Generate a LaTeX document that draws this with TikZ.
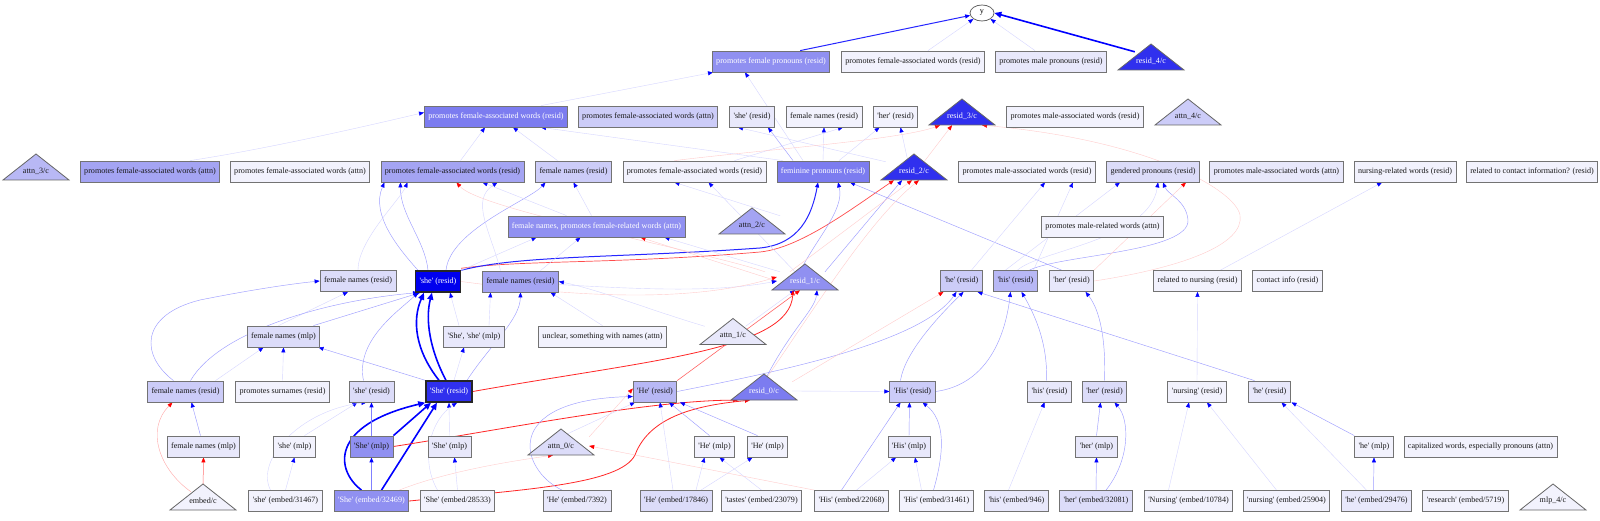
\documentclass[tikz,border=0pt]{standalone}
\usepackage{fontspec}
\setmainfont{Liberation Serif}
\usetikzlibrary{arrows.meta,shapes.geometric}
\pgfdeclarelayer{bg}
\pgfsetlayers{bg,main}
\newcommand{\nfs}{\fontsize{8.1}{9}\selectfont}
\newcommand{\q}{\textquotesingle}
\newcommand{\tri}[6]{%
  \filldraw[fill=#4, draw=black!60, line width=0.8pt] (#2-33,#3+13) -- (#2,#3-13) -- (#2+33,#3+13) -- cycle;
  \node[font=\nfs, text=#5, minimum width=56pt, minimum height=18pt, inner sep=0pt] (#1) at (#2,#3+4) {#6};}
\definecolor{f0}{HTML}{F2F2FD}
\definecolor{f1}{HTML}{E8E8FB}
\definecolor{f2}{HTML}{DCDCF9}
\definecolor{f3}{HTML}{CCCCF8}
\definecolor{f4}{HTML}{B8B8F5}
\definecolor{f5}{HTML}{A4A4F3}
\definecolor{f6}{HTML}{9090F1}
\definecolor{f7}{HTML}{7C7CF0}
\definecolor{f8}{HTML}{3030EE}
\definecolor{f9}{HTML}{0000EE}
\tikzset{
  bx/.style={rectangle, draw=black!55, line width=0.8pt, minimum height=21pt, inner xsep=4pt, inner ysep=0pt, font=\nfs, text=black!90},
  wt/.style={text=white},
  tk/.style={draw=black!85, line width=1.4pt},
  ab/.style={-{Triangle[length=5pt,width=4pt,color=blue]}},
  arx/.style={-{Triangle[length=5pt,width=4pt,color=red]}},
  ew/.style={ab, draw=blue!16, line width=0.4pt},
  eb/.style={ab, draw=blue!38, line width=0.45pt},
  eB/.style={ab, draw=blue!85, line width=1pt},
  eBB/.style={-{Triangle[length=7pt,width=6pt,color=blue]}, draw=blue, line width=1.6pt},
  er/.style={arx, draw=red!20, line width=0.4pt},
  eR/.style={arx, draw=red!85, line width=0.8pt},
}
\begin{document}
\begin{tikzpicture}[x=1pt,y=-1pt]
\begin{pgfonlayer}{bg}
\fill[white] (0,0) rectangle (1600,521);
\end{pgfonlayer}
\useasboundingbox (0,0) rectangle (1600,521);
% ---------- nodes
\node[ellipse, draw=black!60, line width=0.8pt, minimum width=24pt, minimum height=16pt, inner sep=0pt, font=\nfs] (y) at (982,13) {y};
% row 1
\node[bx, fill=f6, wt] (pfp) at (771,61.5) {promotes female pronouns (resid)};
\node[bx, fill=f0] (pfawT) at (913,61.5) {promotes female-associated words (resid)};
\node[bx, fill=f1] (pmp) at (1051,61.5) {promotes male pronouns (resid)};
\tri{r4c}{1151}{57}{f8}{white}{resid\_4/c}
% row 2
\node[bx, fill=f7, wt] (pfaw2) at (496,116.5) {promotes female-associated words (resid)};
\node[bx, fill=f3] (pfaA2) at (648,116.5) {promotes female-associated words (attn)};
\node[bx, fill=f1] (sheR2) at (752,116.5) {\q{}she\q{} (resid)};
\node[bx, fill=f0] (fnR2) at (824,116.5) {female names (resid)};
\node[bx, fill=f0] (herR2) at (895.5,116.5) {\q{}her\q{} (resid)};
\tri{r3c}{962}{112}{f8}{white}{resid\_3/c}
\node[bx, fill=f0] (pmaw2) at (1075,116.5) {promotes male-associated words (resid)};
\tri{a4c}{1188}{112}{f3}{black!90}{attn\_4/c}
% row 3
\tri{a3c}{36}{167}{f4}{black!90}{attn\_3/c}
\node[bx, fill=f5] (pfaA3a) at (150,171.5) {promotes female-associated words (attn)};
\node[bx, fill=f0] (pfaA3b) at (300,171.5) {promotes female-associated words (attn)};
\node[bx, fill=f5] (pfaw3) at (452.5,171.5) {promotes female-associated words (resid)};
\node[bx, fill=f3] (fnR3) at (573.5,171.5) {female names (resid)};
\node[bx, fill=f0] (pfaw3c) at (694.5,171.5) {promotes female-associated words (resid)};
\node[bx, fill=f7, wt] (femP) at (823,171.5) {feminine pronouns (resid)};
\tri{r2c}{914}{167}{f8}{white}{resid\_2/c}
\node[bx, fill=f0] (pmaw3) at (1027,171.5) {promotes male-associated words (resid)};
\node[bx, fill=f2] (gend) at (1153,171.5) {gendered pronouns (resid)};
\node[bx, fill=f1] (pmaA) at (1276.5,171.5) {promotes male-associated words (attn)};
\node[bx, fill=f0] (nurs) at (1405,171.5) {nursing-related words (resid)};
\node[bx, fill=f0] (contQ) at (1532,171.5) {related to contact information? (resid)};
% row 3.5
\node[bx, fill=f6, wt] (fnpa) at (596.5,226.5) {female names, promotes female-related words (attn)};
\tri{a2c}{752}{221}{f5}{black!90}{attn\_2/c}
\node[bx, fill=f0] (pmrA) at (1102.5,226.5) {promotes male-related words (attn)};
% row 4
\node[bx, fill=f2] (fnR4a) at (358,281) {female names (resid)};
\node[bx, fill=f9, wt, tk] (sheR4) at (438,281.5) {\q{}she\q{} (resid)};
\node[bx, fill=f5] (fnR4b) at (520.5,281.5) {female names (resid)};
\tri{r1c}{805}{277}{f6}{white}{resid\_1/c}
\node[bx, fill=f3] (heR4) at (961.5,281) {\q{}he\q{} (resid)};
\node[bx, fill=f4] (hisR4) at (1015.5,281) {\q{}his\q{} (resid)};
\node[bx, fill=f1] (herR4) at (1071.5,281) {\q{}her\q{} (resid)};
\node[bx, fill=f0] (relNurs) at (1197.5,281) {related to nursing (resid)};
\node[bx, fill=f0] (contact) at (1287.5,281) {contact info (resid)};
% row 5
\node[bx, fill=f2] (fnM5) at (283.5,336.5) {female names (mlp)};
\node[bx, fill=f1] (SsM) at (474,336.5) {\q{}She\q{}, \q{}she\q{} (mlp)};
\node[bx, fill=f0] (unclear) at (602.5,336.5) {unclear, something with names (attn)};
\tri{a1c}{733}{331.5}{f1}{black!90}{attn\_1/c}
% row 6
\node[bx, fill=f3] (fnR6) at (185.5,391.5) {female names (resid)};
\node[bx, fill=f0] (psur) at (282.5,391.5) {promotes surnames (resid)};
\node[bx, fill=f2] (sheR6) at (371.5,391.5) {\q{}she\q{} (resid)};
\node[bx, fill=f8, wt, tk] (SheR6) at (449,391.5) {\q{}She\q{} (resid)};
\node[bx, fill=f4] (HeR6) at (655,391.5) {\q{}He\q{} (resid)};
\tri{r0c}{764}{387}{f7}{white}{resid\_0/c}
\node[bx, fill=f3] (HisR6) at (912.5,391.5) {\q{}His\q{} (resid)};
\node[bx, fill=f1] (hisR6) at (1049.5,391.5) {\q{}his\q{} (resid)};
\node[bx, fill=f2] (herR6) at (1104.5,391.5) {\q{}her\q{} (resid)};
\node[bx, fill=f0] (nursR6) at (1197,391.5) {\q{}nursing\q{} (resid)};
\node[bx, fill=f1] (heR6) at (1269.5,391.5) {\q{}he\q{} (resid)};
% row 7
\node[bx, fill=f1] (fnM7) at (203.5,446.5) {female names (mlp)};
\node[bx, fill=f0] (sheM) at (294.5,446.5) {\q{}she\q{} (mlp)};
\node[bx, fill=f6] (SheM1) at (371.5,446.5) {\q{}She\q{} (mlp)};
\node[bx, fill=f1] (SheM2) at (449.5,446.5) {\q{}She\q{} (mlp)};
\tri{a0c}{561}{442}{f2}{black!90}{attn\_0/c}
\node[bx, fill=f0] (HeM1) at (714.5,446.5) {\q{}He\q{} (mlp)};
\node[bx, fill=f0] (HeM2) at (767.5,446.5) {\q{}He\q{} (mlp)};
\node[bx, fill=f1] (HisM) at (909,446.5) {\q{}His\q{} (mlp)};
\node[bx, fill=f1] (herM) at (1096.5,446.5) {\q{}her\q{} (mlp)};
\node[bx, fill=f0] (heM) at (1374,446.5) {\q{}he\q{} (mlp)};
\node[bx, fill=f0] (cap) at (1480.5,446.5) {capitalized words, especially pronouns (attn)};
% row 8
\tri{embc}{203}{497}{f0}{black!90}{embed/c}
\node[bx, fill=f0] (esh1) at (285.5,501) {\q{}she\q{} (embed/31467)};
\node[bx, fill=f6, wt] (eShe) at (371.5,501) {\q{}She\q{} (embed/32469)};
\node[bx, fill=f0] (eShe2) at (457.5,501) {\q{}She\q{} (embed/28533)};
\node[bx, fill=f1] (eHe1) at (577,501) {\q{}He\q{} (embed/7392)};
\node[bx, fill=f2] (eHe2) at (676,501) {\q{}He\q{} (embed/17846)};
\node[bx, fill=f0] (etas) at (761.5,501) {\q{}tastes\q{} (embed/23079)};
\node[bx, fill=f0] (eHis1) at (851.5,501) {\q{}His\q{} (embed/22068)};
\node[bx, fill=f0] (eHis2) at (936.5,501) {\q{}His\q{} (embed/31461)};
\node[bx, fill=f1] (ehis) at (1016.5,501) {\q{}his\q{} (embed/946)};
\node[bx, fill=f2] (eher) at (1096,501) {\q{}her\q{} (embed/32081)};
\node[bx, fill=f0] (eNur) at (1188.5,501) {\q{}Nursing\q{} (embed/10784)};
\node[bx, fill=f0] (enur) at (1286.5,501) {\q{}nursing\q{} (embed/25904)};
\node[bx, fill=f1] (ehe) at (1376.5,501) {\q{}he\q{} (embed/29476)};
\node[bx, fill=f0] (eres) at (1465.5,501) {\q{}research\q{} (embed/5719)};
\tri{mlpc}{1553}{497}{f0}{black!90}{mlp\_4/c}
% ---------- edges
\begin{pgfonlayer}{bg}
% top
\draw[eB] ([xshift=-30]pfp.north east) -- (y);
\draw[eBB] ([xshift=12]r4c.north west) -- (y.east);
\draw[ew] ([xshift=15]pfawT.north) -- (y);
\draw[ew] ([xshift=-16]pmp.north) -- (y);
\draw[ew] ([xshift=45]pfaw2.north) -- ([xshift=-58]pfp.south);
\draw[ew] ([xshift=-20]femP.north) -- ([xshift=-26]pfp.south);
% into row 2
\draw[ew] ([xshift=40]pfaA3a.north) .. controls (260,150) and (350,130) .. ([yshift=4]pfaw2.west);
\draw[ew] ([xshift=8]pfaw3.north) -- ([xshift=-11]pfaw2.south);
\draw[ew] ([xshift=-16]fnR3.north) -- ([xshift=17]pfaw2.south);
\draw[ew] ([xshift=-40]femP.north) -- ([xshift=45]pfaw2.south);
\draw[eb] ([xshift=-30]femP.north) -- ([xshift=16]sheR2.south);
\draw[ew] (r2c.north west) -- ([xshift=-14]sheR2.south);
\draw[ew] (femP.north) -- (fnR2.south);
\draw[ew] ([xshift=16]femP.north) -- ([xshift=-16]herR2.south);
\draw[ew] ([xshift=-6]r2c.north) -- ([xshift=5]herR2.south);
\draw[ew] ([xshift=40]pfaw3c.north) -- ([xshift=19]fnR2.south);
\draw[er] (herR4.east) .. controls (1180,268) and (1245,245) .. (1240,215) .. controls (1235,190) and (1150,140) .. ([xshift=20]r3c.south);
\draw[er] ([xshift=-20]pfaw3c.north) .. controls (760,150) and (900,140) .. ([xshift=-22]r3c.south);
\draw[er] ([xshift=10]r2c.north) -- ([xshift=-10]r3c.south);
% into row 3
\draw[eR, draw=red!70, line width=0.7pt] ([yshift=2]sheR4.north east) .. controls (520,260) and (620,264) .. (760,252) .. controls (800,248) and (850,210) .. ([xshift=-20]r2c.south);
\draw[eB] (sheR4.north east) .. controls (520,255) and (620,258) .. (760,248) .. controls (800,244) and (812,215) .. ([xshift=-5]femP.south);
\draw[eb] ([xshift=-10]sheR4.north) .. controls (425,240) and (400,215) .. ([xshift=-52]pfaw3.south);
\draw[eb] ([xshift=-20]sheR4.north) .. controls (400,250) and (370,215) .. ([xshift=-68]pfaw3.south);
\draw[eb] ([xshift=8]sheR4.north) .. controls (450,230) and (530,200) .. ([xshift=-28]fnR3.south);
\draw[ew] (fnR4a.north) .. controls (358,240) and (400,200) .. ([xshift=-45]pfaw3.south);
\draw[ew] ([xshift=-30]fnpa.north) -- ([xshift=30]pfaw3.south);
\draw[ew] ([xshift=-20]fnR4b.north) .. controls (490,230) and (470,200) .. ([xshift=45]pfaw3.south);
\draw[ew] ([xshift=-5]fnpa.north) -- (fnR3.south);
\draw[er] ([xshift=-40]r1c.north) .. controls (700,250) and (480,210) .. ([xshift=4]pfaw3.south);
\draw[eb] ([xshift=-5]r1c.north) .. controls (815,240) and (845,210) .. ([xshift=15]femP.south);
\draw[eb] ([xshift=20]r1c.north) -- ([xshift=-12]r2c.south);
\draw[eb] ([xshift=-10]herR4.north) -- ([xshift=27]femP.south);
\draw[eb] ([xshift=14]hisR4.north) .. controls (1060,255) and (1190,252) .. (1188,220) .. controls (1186,200) and (1168,195) .. ([xshift=10]gend.south);
\draw[ew] ([xshift=2]hisR4.north) .. controls (1040,250) and (1150,240) .. ([xshift=5]gend.south);
\draw[ew] ([xshift=-10]hisR4.north) -- ([xshift=-33]gend.south);
\draw[er] (herR4.north east) -- ([xshift=33]gend.south);
\draw[ew] ([xshift=23]relNurs.north) -- ([xshift=-23]nurs.south);
\draw[ew] (a2c.north east) -- ([xshift=-20]pfaw3c.south);
\draw[ew] ([xshift=-10]r1c.north) -- ([xshift=14]pfaw3c.south);
\draw[ew] ([xshift=10]heR4.north) -- ([xshift=18]pmaw3.south);
\draw[ew] ([xshift=18]hisR4.north) -- ([xshift=46]pmaw3.south);
\draw[er] (r0c.north) .. controls (820,300) and (870,220) .. ([xshift=5]r2c.south);
\draw[er] ([xshift=-15]r1c.north) -- ([xshift=-2]r2c.south);
% into row 3.5
\draw[ew] ([xshift=20]fnR4b.north) -- ([xshift=-16]fnpa.south);
\draw[ew] (sheR4.north east) -- ([xshift=-60]fnpa.south);
\draw[er] (r1c.west) -- ([xshift=44]fnpa.south);
\draw[ew] ([xshift=-25]r1c.north) -- ([xshift=68]fnpa.south);
% into row 4
\draw[ew] ([xshift=-15]SsM.north) -- ([xshift=12]sheR4.south);
\draw[ew] ([xshift=15]SsM.north) -- ([xshift=-30]fnR4b.south);
\draw[eb] ([xshift=30]fnM5.north) -- ([xshift=-18]sheR4.south);
\draw[ew] ([xshift=-5]fnM5.north) -- ([xshift=-10]fnR4a.south);
\draw[ew] (unclear.north) -- ([xshift=30]fnR4b.south);
\draw[ew] (a1c) -- ([xshift=-10]r1c.south);
\draw[ew] (a1c.north west) .. controls (650,310) and (600,290) .. (fnR4b.east);
\draw[ew] ([yshift=-3]fnR4b.east) .. controls (650,290) and (720,292) .. (r1c.west);
\draw[er] (sheR4.east) .. controls (600,300) and (700,300) .. ([yshift=4]r1c.west);
% row 6 -> 4/5
\draw[eBB] ([xshift=-3]SheR6.north) .. controls (430,350) and (425,320) .. ([xshift=-6]sheR4.south);
\draw[eBB] ([xshift=-10]SheR6.north) .. controls (415,350) and (412,320) .. ([xshift=-14]sheR4.south);
\draw[eR] (SheR6.east) .. controls (650,360) and (790,350) .. ([xshift=-12]r1c.south);
\draw[eb] (SheR6.north west) -- ([xshift=35]fnM5.south);
\draw[eb] ([xshift=18]SheR6.north) .. controls (490,345) and (520,320) .. (fnR4b.south);
\draw[ew] ([xshift=5]SheR6.north) -- ([xshift=-10]SsM.south);
\draw[eb] ([xshift=-8]sheR6.north) .. controls (355,340) and (400,310) .. ([xshift=-20]sheR4.south);
\draw[eb] ([xshift=-12]fnR6.north) .. controls (140,355) and (140,315) .. (200,300) .. controls (250,290) and (290,284) .. (fnR4a.west);
\draw[eb] ([xshift=5]fnR6.north) .. controls (220,330) and (330,300) .. ([xshift=-20]sheR4.south);
\draw[ew] ([xshift=30]fnR6.north) -- ([xshift=-20]fnM5.south);
\draw[ew] (psur.north) -- (fnM5.south);
% row 7/8 -> 6
\draw[eb] ([xshift=-3]fnM7.north) -- ([xshift=6]fnR6.south);
\draw[eR, draw=red!55, line width=0.5pt] (embc.north) -- (fnM7.south);
\draw[er, draw=red!35] ([xshift=-12]embc.north) .. controls (160,470) and (145,430) .. ([xshift=-13]fnR6.south);
\draw[eBB] ([xshift=-10]eShe.north) .. controls (335,470) and (330,425) .. (SheR6.south west);
\draw[eBB] ([xshift=10]eShe.north) -- ([xshift=-12]SheR6.south);
\draw[eB, draw=blue!50] (eShe.north) -- (SheM1.south);
\draw[eB, draw=blue!50] (SheM1.north) -- (sheR6.south);
\draw[eBB] (SheM1.north east) -- ([xshift=-18]SheR6.south);
\draw[eR] (SheM1.east) .. controls (500,430) and (650,400) .. ([xshift=-26]r0c.south);
\draw[eR] (eShe.east) .. controls (520,490) and (620,485) .. (635,455) .. controls (650,415) and (700,405) .. ([xshift=-14]r0c.south);
\draw[ew] ([xshift=10]sheM.north) -- ([xshift=-14]sheR6.south);
\draw[ew] (esh1.north) -- (sheM.south);
\draw[ew] ([xshift=-15]esh1.north) .. controls (255,460) and (300,410) .. ([xshift=-5]sheR6.south);
\draw[ew] (SheM2.north) -- (SheR6.south);
\draw[ew] (eShe2.north) -- ([xshift=5]SheM2.south);
\draw[ew] ([xshift=-20]eShe2.north) .. controls (420,460) and (430,420) .. ([xshift=8]SheR6.south);
\draw[er] ([xshift=-10]eShe.north east) .. controls (450,470) and (520,460) .. ([xshift=-8]a0c.south);
% He
\draw[eb] ([xshift=-15]eHe1.north) .. controls (520,470) and (500,400) .. ([yshift=-5]HeR6.west);
\draw[er] (a0c.north east) -- ([yshift=3]HeR6.west);
\draw[ew] ([xshift=-3]eHe2.north) -- ([xshift=5]HeR6.south);
\draw[eb] ([xshift=-5]HeM1.north) -- ([xshift=14]HeR6.south);
\draw[eb] ([xshift=-10]HeM2.north) -- ([xshift=25]HeR6.south);
\draw[ew] ([xshift=20]eHe2.north) -- ([xshift=-10]HeM1.south);
\draw[ew] ([xshift=25]eHe2.north) -- ([xshift=-15]HeM2.south);
\draw[ew] (etas.north) -- ([xshift=5]HeM1.south);
\draw[eR, draw=red!60, line width=0.6pt] (HeR6.north east) -- ([xshift=-5]r1c.south);
\draw[eb] (HeR6.east) .. controls (760,375) and (920,345) .. ([xshift=-5]heR4.south);
\draw[eb] (r0c.north) .. controls (790,330) and (815,310) .. ([xshift=12]r1c.south);
\draw[ew] (a0c.north) -- ([xshift=-20]HeR6.south);
\draw[er] (eHis1.north west) -- (a0c.east);
% His / his / her
\draw[eb] (HisM.north) -- ([xshift=-3]HisR6.south);
\draw[eb] ([xshift=-10]eHis1.north) -- ([xshift=-12]HisR6.south);
\draw[eb] ([xshift=-3]eHis2.north) .. controls (945,450) and (945,420) .. ([xshift=10]HisR6.south);
\draw[ew] ([xshift=5]eHis1.north) -- ([xshift=-13]HisM.south);
\draw[ew] ([xshift=-15]eHis2.north) -- ([xshift=6]HisM.south);
\draw[eb] (HisR6.east) .. controls (985,385) and (1005,340) .. ([xshift=-5]hisR4.south);
\draw[ew] (r0c.east) -- (HisR6.west);
\draw[eb] ([xshift=-3]hisR6.north) .. controls (1048,340) and (1032,310) .. ([xshift=6]hisR4.south);
\draw[ew] ([xshift=-8]ehis.north) -- ([xshift=-5]hisR6.south);
\draw[eb] (herM.north) -- ([xshift=-4]herR6.south);
\draw[eb] (eher.north) -- (herM.south);
\draw[eb] ([xshift=10]eher.north) .. controls (1130,460) and (1130,420) .. ([xshift=10]herR6.south);
\draw[eb] (herR6.north) .. controls (1106,340) and (1100,310) .. ([xshift=14]herR4.south);
\draw[eb] ([xshift=-12]HisR6.north) .. controls (905,350) and (945,310) .. ([xshift=2]heR4.south);
\draw[er] (r0c.north east) -- ([xshift=-18]heR4.south);
% nursing / he
\draw[ew] ([xshift=-20]eNur.north) -- ([xshift=-8]nursR6.south);
\draw[ew] ([xshift=-10]enur.north) -- ([xshift=10]nursR6.south);
\draw[ew] (nursR6.north) -- (relNurs.south);
\draw[eb] ([xshift=-15]heR6.north) -- ([xshift=16]heR4.south);
\draw[eb] (heM.north west) -- ([xshift=22]heR6.south);
\draw[ew] ([xshift=-10]ehe.north) -- ([xshift=12]heR6.south);
\draw[eb] ([xshift=-3]ehe.north) -- (heM.south);
\end{pgfonlayer}
\end{tikzpicture}
\end{document}
